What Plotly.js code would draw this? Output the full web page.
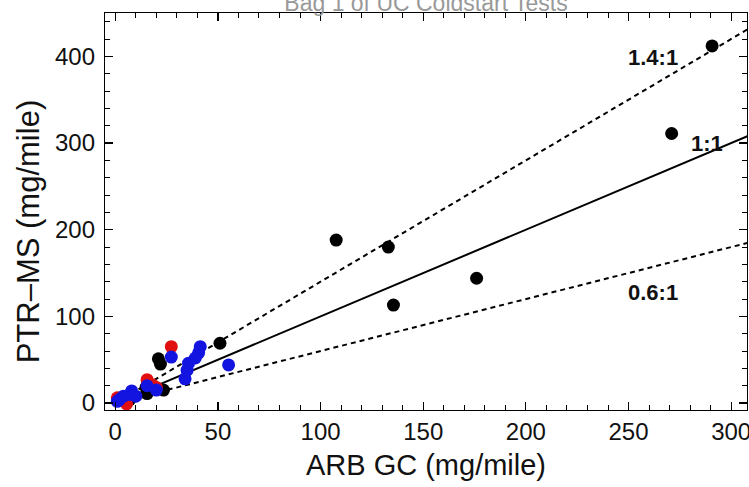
<!DOCTYPE html>
<html>
<head>
<meta charset="utf-8">
<script src="https://cdn.plot.ly/plotly-3.0.1.min.js"></script>
<style>html,body{margin:0;padding:0;background:#fff;}#chart{width:749px;height:487px;}</style>
</head>
<body>
<div id="chart"></div>
<script>
// ---- data ----
const blackX = [290.7, 271, 107.6, 133, 135.5, 176, 51, 21, 22, 23.5, 15.5, 15, 7];
const blackY = [412, 311, 188, 180, 113, 144, 69, 51, 45, 15, 11, 18, 4];
const redX = [27.3, 15.5, 18, 1, 5.5, 20];
const redY = [65, 27, 21, 6, -1, 18];
const blueX = [27.3, 41.4, 40.6, 39, 35.7, 35, 34, 55.2, 15.5, 1, 4, 8, 7, 2, 10, 20];
const blueY = [53, 65, 58, 52, 46, 38, 28, 44, 20, 2, 8, 14, 10, 4, 8, 15];
const ratioSlopes = [1.4, 1, 0.6];
const ratioLabels = ['1.4:1', '1:1', '0.6:1'];
const ratioLabelX = [262, 288, 262];
const ratioLabelY = [399, 300, 128];
const lineXExtent = [0, 320];
const xTickVals = [0, 50, 100, 150, 200, 250, 300];
const yTickVals = [0, 100, 200, 300, 400];
const titleText = 'Bag 1 of UC Coldstart Tests';
const xTitle = 'ARB GC (mg/mile)';
const yTitle = 'PTR\u2013MS (mg/mile)';

const FONT = 'Arial, "Liberation Sans", sans-serif';
const X_RANGE = [-5, 307.7];
const Y_RANGE = [-8, 450];

const lineStyles = ['dash', 'solid', 'dash'];
const traces = ratioSlopes.map((s, i) => ({
  x: lineXExtent,
  y: lineXExtent.map(v => v * s),
  mode: 'lines',
  line: {color: 'black', width: 2, dash: lineStyles[i] === 'dash' ? '5px,4px' : 'solid'},
  hoverinfo: 'skip',
  showlegend: false
}));

function pts(x, y, c) {
  return {x: x, y: y, mode: 'markers', type: 'scatter',
    marker: {color: c, size: 13, line: {width: 0}}, showlegend: false, cliponaxis: false};
}
traces.push(pts(blackX, blackY, 'black'));
traces.push(pts(redX, redY, 'rgb(225,15,15)'));
traces.push(pts(blueX, blueY, 'rgb(20,20,225)'));
// invisible trace to anchor the mirrored top/right axes
traces.push({x: [X_RANGE[0]], y: [Y_RANGE[0]], xaxis: 'x2', yaxis: 'y2', mode: 'markers',
  marker: {opacity: 0}, showlegend: false, hoverinfo: 'skip'});

const annotations = ratioLabels.map((t, i) => ({
  x: ratioLabelX[i], y: ratioLabelY[i], xref: 'x', yref: 'y',
  text: '<b>' + t + '</b>', showarrow: false,
  font: {family: FONT, size: 22, color: '#111'}
}));
annotations.push({
  xref: 'paper', yref: 'paper', x: -0.12, y: 0.45, xanchor: 'center', yanchor: 'middle',
  textangle: -90, text: yTitle, showarrow: false,
  font: {family: FONT, size: 31, color: '#111'}
});

const axisCommon = {
  showgrid: false, zeroline: false, showline: true, linecolor: 'black', linewidth: 1.2,
  ticks: 'inside', ticklen: 8, tickwidth: 1.2, tickcolor: 'black',
  tickfont: {family: FONT, size: 24, color: '#111'}
};

const layout = {
  width: 749, height: 487,
  margin: {l: 105, r: 2, t: 13, b: 77},
  paper_bgcolor: 'white', plot_bgcolor: 'white',
  title: {text: titleText, font: {family: FONT, size: 23, color: '#999'},
    x: 0.5, xref: 'paper', y: 1, yref: 'paper', yanchor: 'bottom', pad: {b: 2}},
  xaxis: Object.assign({}, axisCommon, {
    range: X_RANGE, tickvals: xTickVals, ticklabeloverflow: 'allow',
    minor: {dtick: 10, tick0: 0, ticks: 'inside', ticklen: 5, tickwidth: 1, tickcolor: 'black'},
    title: {text: xTitle, font: {family: FONT, size: 29, color: '#111'}, standoff: 10}
  }),
  yaxis: Object.assign({}, axisCommon, {
    range: Y_RANGE, tickvals: yTickVals,
    minor: {dtick: 20, tick0: 0, ticks: 'inside', ticklen: 5, tickwidth: 1, tickcolor: 'black'},
    ticklabelstandoff: 4
  }),
  xaxis2: Object.assign({}, axisCommon, {
    overlaying: 'x', side: 'top', anchor: 'y2', range: X_RANGE, tickvals: xTickVals,
    showticklabels: false,
    minor: {dtick: 10, tick0: 0, ticks: 'inside', ticklen: 5, tickwidth: 1, tickcolor: 'black'}
  }),
  yaxis2: Object.assign({}, axisCommon, {
    overlaying: 'y', side: 'right', anchor: 'x2', range: Y_RANGE, tickvals: yTickVals,
    showticklabels: false,
    minor: {dtick: 20, tick0: 0, ticks: 'inside', ticklen: 5, tickwidth: 1, tickcolor: 'black'}
  }),
  annotations: annotations
};

Plotly.newPlot('chart', traces, layout, {displayModeBar: false, staticPlot: true});
</script>
</body>
</html>
